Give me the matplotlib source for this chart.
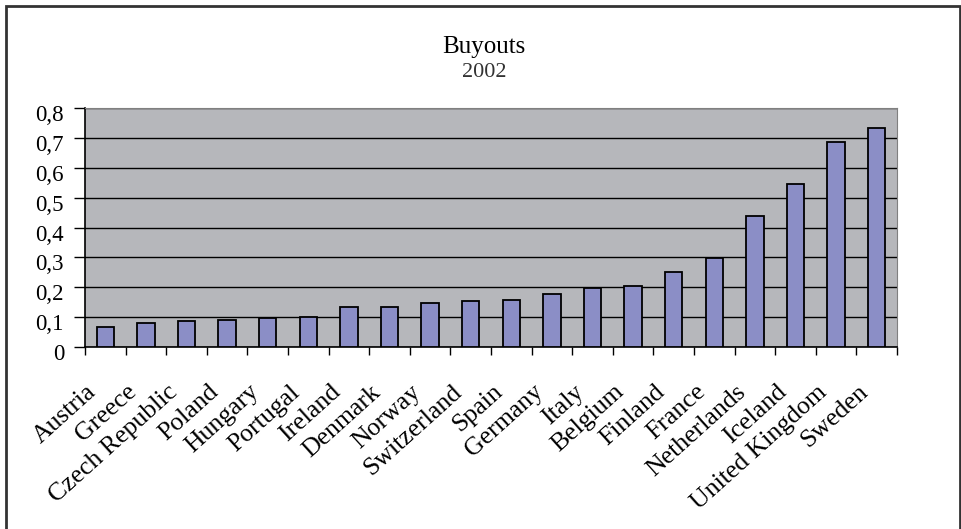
import matplotlib

matplotlib.use("Agg")

import matplotlib.pyplot as plt
from matplotlib.patches import Rectangle
from matplotlib.ticker import FixedLocator, NullFormatter
from matplotlib.transforms import blended_transform_factory, offset_copy

plt.rcParams["font.family"] = ["Liberation Serif", "DejaVu Serif"]

countries = [
    "Austria", "Greece", "Czech Republic", "Poland", "Hungary", "Portugal",
    "Ireland", "Denmark", "Norway", "Switzerland", "Spain", "Germany",
    "Italy", "Belgium", "Finland", "France", "Netherlands", "Iceland",
    "United Kingdom", "Sweden",
]
buyouts_2002 = [
    0.066, 0.079, 0.087, 0.091, 0.096, 0.099,
    0.133, 0.133, 0.146, 0.154, 0.157, 0.178,
    0.199, 0.203, 0.252, 0.299, 0.439, 0.547,
    0.685, 0.733,
]
y_ticks = [0, 0.1, 0.2, 0.3, 0.4, 0.5, 0.6, 0.7, 0.8]

BAR_COLOR = "#8b8ec6"
PLOT_BG = "#b6b7bb"

W, H = 962, 529
fig = plt.figure(figsize=(W / 100, H / 100), dpi=100)
ax = fig.add_axes([85 / W, 1 - 347 / H, (897 - 85) / W, (347 - 108) / H])
ax.set_facecolor(PLOT_BG)

x = list(range(len(countries)))
ax.bar(x, buyouts_2002, width=0.43, color=BAR_COLOR, edgecolor="black",
       linewidth=1.3, zorder=3)

ax.set_xlim(-0.5, len(countries) - 0.5)
ax.set_ylim(0, 0.8)
ax.set_yticks(y_ticks)
ax.yaxis.set_major_formatter(NullFormatter())
ax.yaxis.grid(True, color="black", linewidth=1.0, zorder=1)
ax.set_axisbelow(True)

# y labels drawn as text: Excel sits them a few pixels under the ticks
ylab_tr = offset_copy(blended_transform_factory(ax.transAxes, ax.transData),
                      fig=fig, x=-21, y=-5, units="dots")
for v in y_ticks:
    label = "0" if v == 0 else f"{v:.1f}".replace(".", ",")
    ax.text(0, v, label, transform=ylab_tr, ha="right", va="center_baseline",
            fontsize=16.5)

# category labels, slanted, ending a bit left of each bar
ax.set_xticks(x)
ax.xaxis.set_major_formatter(NullFormatter())
xlab_tr = offset_copy(blended_transform_factory(ax.transData, ax.transAxes),
                      fig=fig, x=-12, y=-42, units="dots")
for i, name in enumerate(countries):
    ax.text(i, 0, name, transform=xlab_tr, rotation=42, ha="right",
            va="center", rotation_mode="anchor", fontsize=18.5)

ax.xaxis.set_minor_locator(FixedLocator([i - 0.5 for i in range(len(countries) + 1)]))
ax.tick_params(axis="x", which="major", length=0)
ax.tick_params(axis="x", which="minor", length=6, width=1, direction="out")
ax.tick_params(axis="y", length=8, width=1, direction="out")

for side in ("top", "right"):
    ax.spines[side].set_color("#808080")
for side in ("left", "bottom"):
    ax.spines[side].set_color("black")
    ax.spines[side].set_linewidth(1.2)

fig.text(484 / W, 1 - 45 / H, "Buyouts", ha="center", va="center_baseline",
         fontsize=18)
fig.text(484 / W, 1 - 70 / H, "2002", ha="center", va="center_baseline",
         fontsize=16, color="#333333")

fig.patches.append(Rectangle((6 / W, -0.05), (960 - 6) / W, 1.05 - 6 / H,
                             transform=fig.transFigure, fill=False,
                             edgecolor="#333333", linewidth=2))

fig.savefig("out.png", dpi=100)
